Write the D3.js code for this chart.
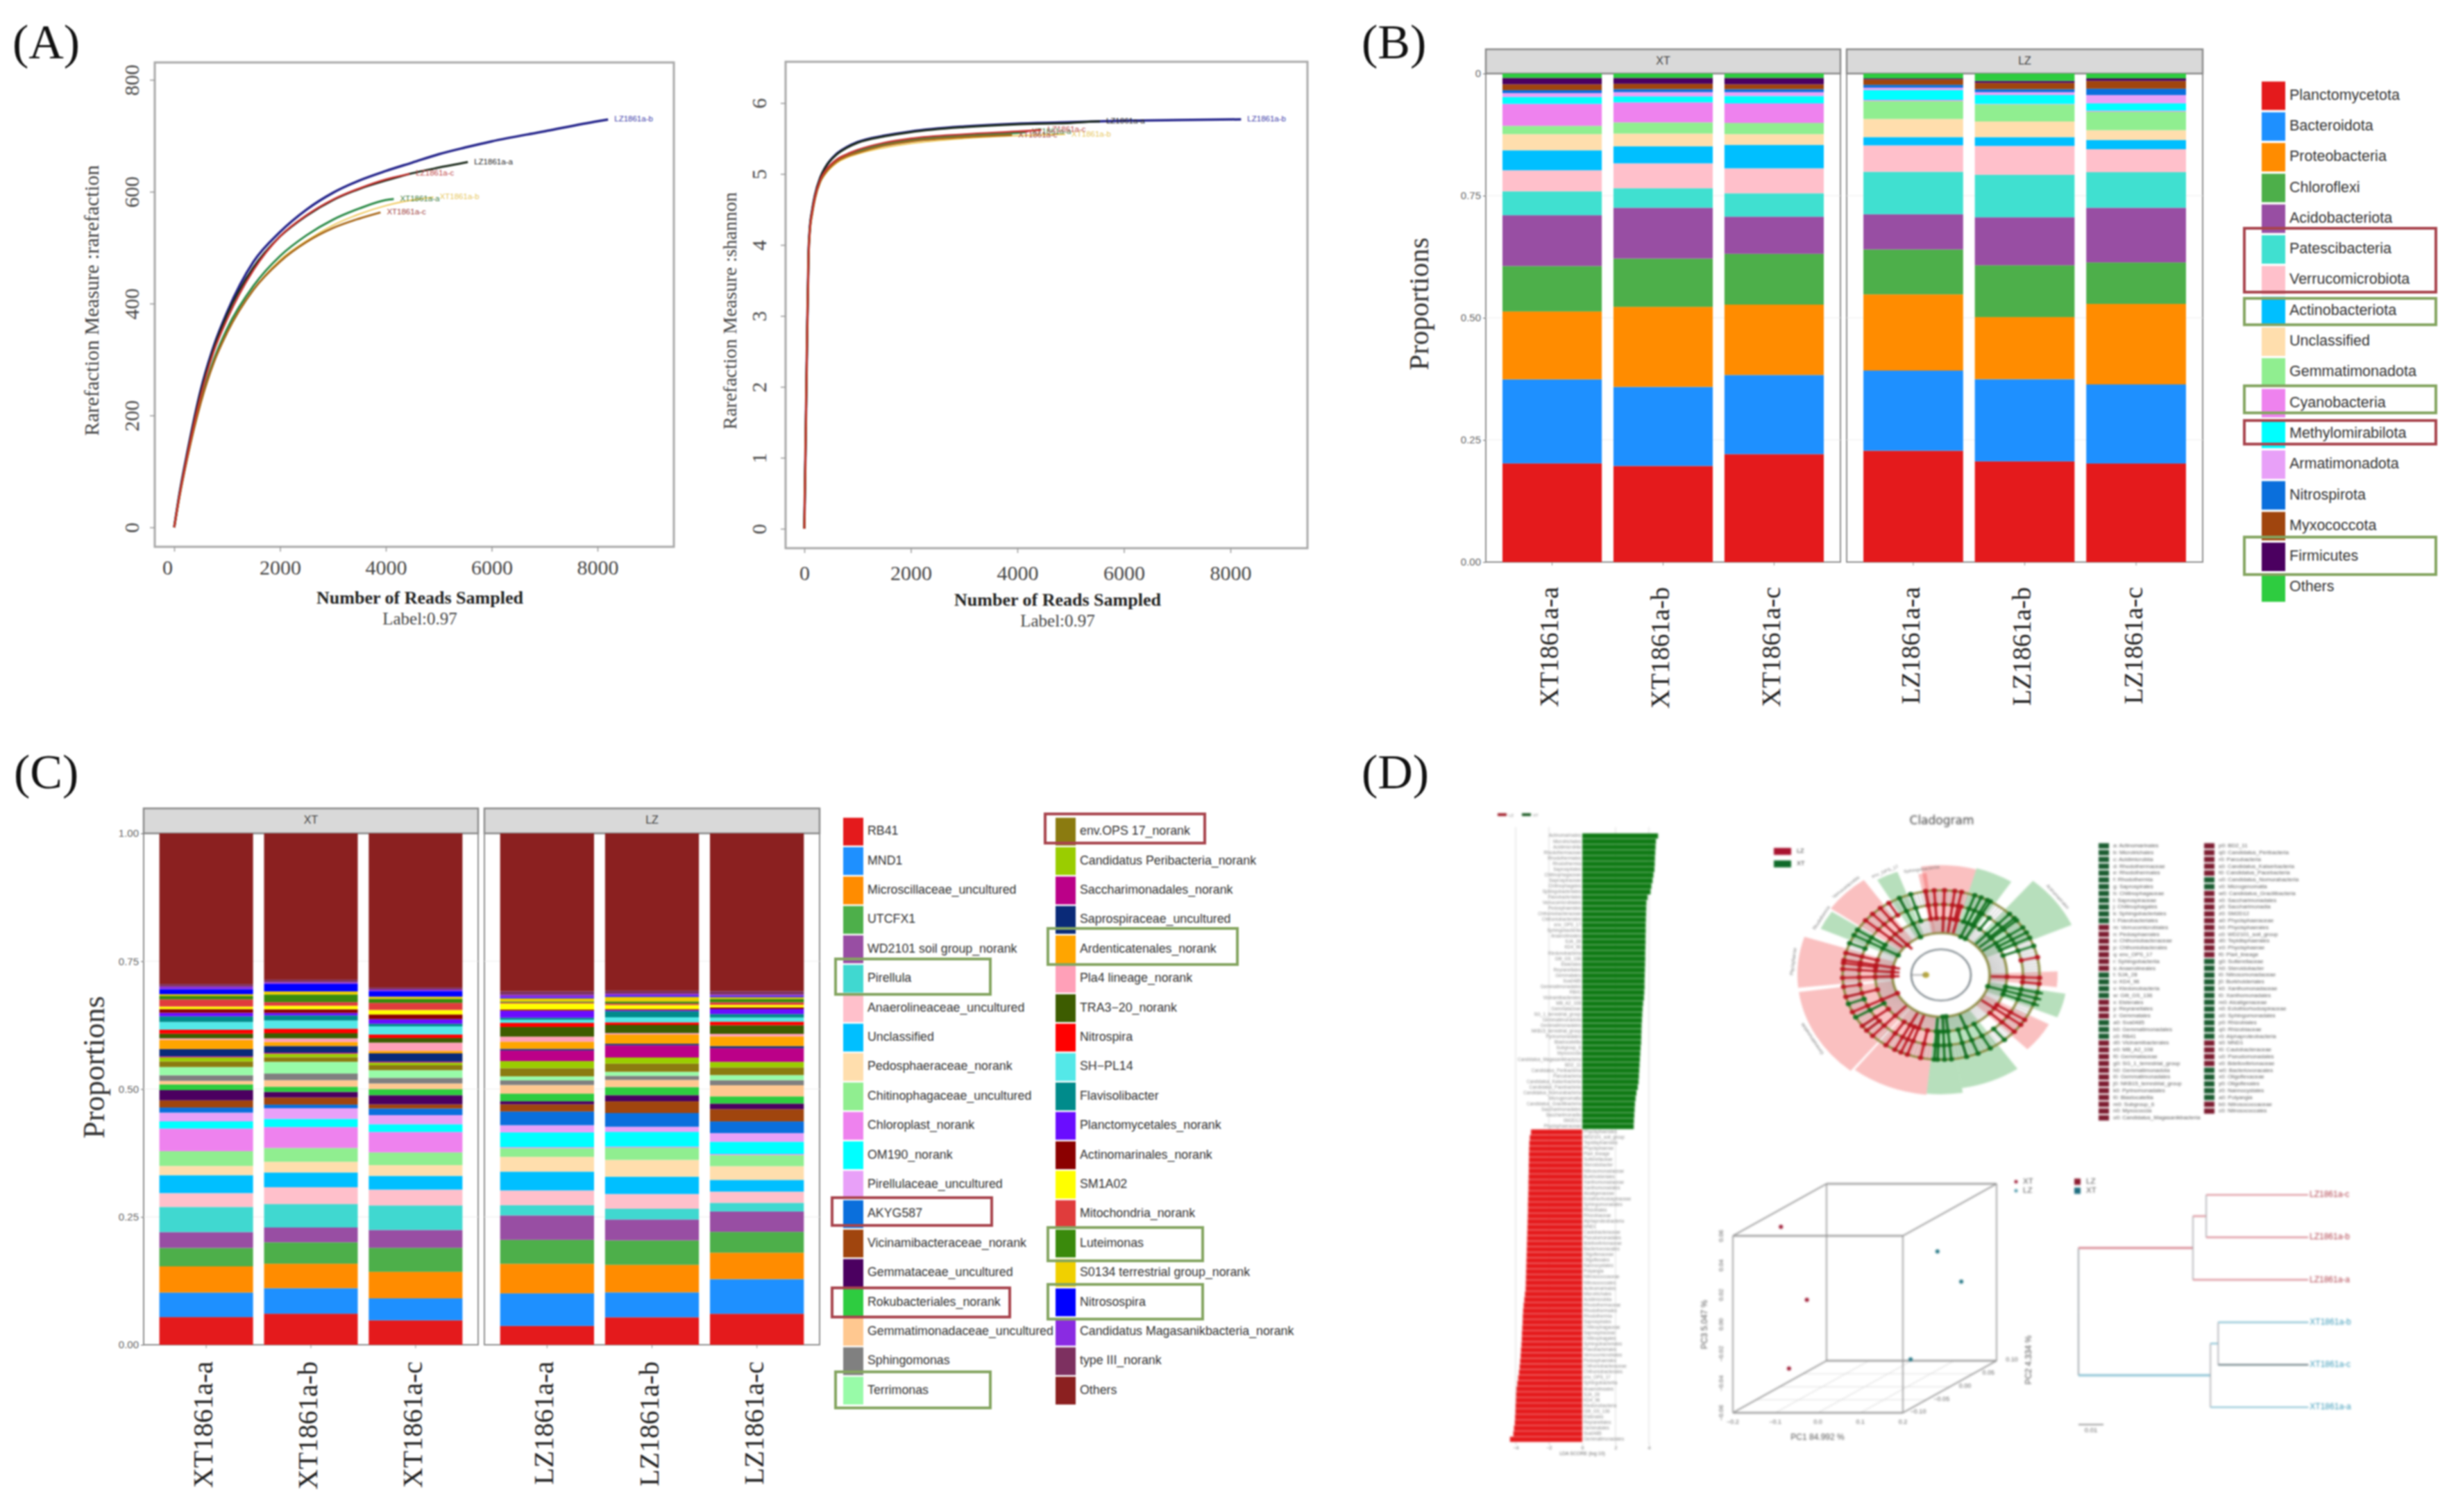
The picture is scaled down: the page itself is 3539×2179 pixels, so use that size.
<!DOCTYPE html>
<html>
<head>
<meta charset="utf-8">
<script src="https://cdn.jsdelivr.net/npm/d3@7"></script>
<style>
  body { margin: 0; background: #fff; }
  svg { display: block; filter: blur(0.8px); }
  .soft { filter: blur(1.1px); }
</style>
</head>
<body>
<div id="chart-area"></div>
<script>
// ---- panel A: rarefaction curves
const rareReads = [0, 100, 250, 500, 750, 1000, 1500, 2000, 2500, 3000, 3500, 4000, 4500, 5000, 5500, 6000, 7000, 8000, 8200];
const rareLZb = [0, 60, 135, 245, 325, 385, 475, 528, 568, 598, 620, 637, 652, 667, 679, 690, 708, 726, 729];
const rareLZa = [0, 59, 133, 240, 320, 380, 465, 520, 557, 585, 605, 620, 633, 643, 652];
const rareLZc = [0, 57, 130, 235, 315, 372, 460, 520, 558, 586, 606, 622];
const rareXTa = [0, 56, 127, 225, 300, 355, 432, 485, 522, 550, 570, 585];
const rareXTb = [0, 55, 125, 222, 296, 350, 425, 478, 512, 540, 560, 575, 585];
const rareXTc = [0, 55, 125, 222, 295, 348, 425, 475, 510, 535, 552];
const rareEnds = { "LZ1861a-b": null, "LZ1861a-a": [5550, 653], "LZ1861a-c": [4450, 632], "XT1861a-a": [4150, 587], "XT1861a-b": [4900, 590], "XT1861a-c": [3900, 563] };

const shanReads = [0, 20, 50, 80, 100, 150, 200, 300, 400, 600, 800, 1000, 1500, 2000, 3000, 4000, 5000, 5500, 6000, 7000, 8200];
const shanLZb = [0, 1.0, 2.6, 3.9, 4.2, 4.5, 4.7, 4.95, 5.1, 5.28, 5.38, 5.45, 5.54, 5.6, 5.67, 5.71, 5.73, 5.74, 5.75, 5.76, 5.77];
const shanLZa = [0, 1.0, 2.6, 3.9, 4.2, 4.5, 4.7, 4.95, 5.1, 5.27, 5.37, 5.44, 5.53, 5.59, 5.66, 5.7, 5.72, 5.74];
const shanLZc = [0, 1.0, 2.6, 3.9, 4.18, 4.48, 4.68, 4.92, 5.05, 5.2, 5.28, 5.34, 5.44, 5.5, 5.56, 5.6];
const shanXTa = [0, 1.0, 2.6, 3.9, 4.18, 4.47, 4.67, 4.9, 5.03, 5.18, 5.26, 5.32, 5.42, 5.48, 5.54, 5.58];
const shanXTb = [0, 1.0, 2.6, 3.85, 4.15, 4.45, 4.65, 4.88, 5.0, 5.15, 5.23, 5.28, 5.37, 5.43, 5.5, 5.54];
const shanXTc = [0, 1.0, 2.6, 3.85, 4.15, 4.45, 4.65, 4.9, 5.02, 5.17, 5.25, 5.3, 5.4, 5.46, 5.52];
const shanEnds = { "LZ1861a-b": null, "LZ1861a-a": [5550, 5.74], "LZ1861a-c": [4450, 5.62], "XT1861a-a": [4150, 5.59], "XT1861a-b": [4900, 5.56], "XT1861a-c": [3900, 5.55] };

// ---- panel B: phylum proportions
const samples = ["a", "b", "c"];
const phylumNames = ["Planctomycetota", "Bacteroidota", "Proteobacteria", "Chloroflexi", "Acidobacteriota", "Patescibacteria", "Verrucomicrobiota", "Actinobacteriota", "Unclassified", "Gemmatimonadota", "Cyanobacteria", "Methylomirabilota", "Armatimonadota", "Nitrospirota", "Myxococcota", "Firmicutes", "Others"];
const phylumColors = ["#e41a1c", "#1e90ff", "#ff8c00", "#4daf4a", "#984ea3", "#40e0d0", "#ffc0cb", "#00bfff", "#ffdead", "#90ee90", "#ee82ee", "#00ffff", "#e8a0f8", "#0a6fdc", "#a0450e", "#4b0060", "#2ecc40"];
const phylumXTa = [20.2, 17.2, 13.9, 9.3, 10.4, 4.9, 4.3, 4.1, 3.3, 1.7, 4.5, 1.4, 0.8, 0.6, 1.2, 1.3, 0.9];
const phylumXTb = [19.7, 16.2, 16.4, 9.9, 10.4, 4.0, 5.1, 3.5, 2.6, 2.3, 4.1, 1.2, 0.9, 0.6, 1.1, 1.2, 0.9];
const phylumXTc = [22.1, 16.2, 14.4, 10.4, 7.6, 4.8, 5.1, 4.8, 2.2, 2.3, 4.0, 1.5, 0.8, 0.6, 1.0, 1.3, 0.9];
const phylumLZa = [22.8, 16.4, 15.6, 9.2, 7.2, 8.7, 5.4, 1.7, 3.7, 3.7, 0.2, 2.0, 0.5, 0.6, 1.1, 0.2, 1.0];
const phylumLZb = [20.6, 16.8, 12.7, 10.6, 9.8, 8.7, 5.9, 1.8, 3.2, 3.5, 0.1, 1.8, 0.6, 0.6, 1.3, 0.4, 1.5];
const phylumLZc = [20.2, 16.2, 16.5, 8.5, 11.2, 7.3, 4.7, 1.9, 2.0, 3.8, 0.2, 1.5, 1.7, 1.3, 1.6, 0.5, 1.0];

// ---- panel C: genus proportions
const genusNames = ["RB41", "MND1", "Microscillaceae_uncultured", "UTCFX1", "WD2101 soil group_norank", "Pirellula", "Anaerolineaceae_uncultured", "Unclassified", "Pedosphaeraceae_norank", "Chitinophagaceae_uncultured", "Chloroplast_norank", "OM190_norank", "Pirellulaceae_uncultured", "AKYG587", "Vicinamibacteraceae_norank", "Gemmataceae_uncultured", "Rokubacteriales_norank", "Gemmatimonadaceae_uncultured", "Sphingomonas", "Terrimonas",
  "env.OPS 17_norank", "Candidatus Peribacteria_norank", "Saccharimonadales_norank", "Saprospiraceae_uncultured", "Ardenticatenales_norank", "Pla4 lineage_norank", "TRA3\u221220_norank", "Nitrospira", "SH\u2212PL14", "Flavisolibacter", "Planctomycetales_norank", "Actinomarinales_norank", "SM1A02", "Mitochondria_norank", "Luteimonas", "S0134 terrestrial group_norank", "Nitrosospira", "Candidatus Magasanikbacteria_norank", "type III_norank", "Others"];
const genusColors = ["#e41a1c", "#1e90ff", "#ff8c00", "#4daf4a", "#984ea3", "#40d8d0", "#ffc0cb", "#00bfff", "#ffdead", "#90ee90", "#ee82ee", "#00ffff", "#e8a0f8", "#0a6fdc", "#a0450e", "#4b0060", "#2ecc40", "#ffc890", "#808080", "#98fba8",
  "#8b7b10", "#9acd00", "#bb0088", "#0a2a78", "#ffa500", "#ffa0b8", "#3d5c00", "#ff0000", "#54e8e8", "#008b8b", "#6a0dff", "#8b0000", "#ffff00", "#e03c3c", "#3a8a0c", "#f0d000", "#0000ff", "#8a2be2", "#7d3060", "#8b2020"];
const genusXTa = [5.4, 4.8, 5.1, 3.6, 3.1, 4.9, 2.7, 3.5, 1.8, 2.9, 4.4, 1.4, 1.7, 1.0, 1.4, 2.0, 1.1, 0.7, 1.1, 1.6, 1.1, 0.8, 0.2, 1.4, 1.8, 0.3, 0.9, 0.8, 1.5, 1.1, 0.7, 0.7, 0.5, 1.4, 0.7, 0.3, 1.0, 0.5, 0.5, 29.4];
const genusXTb = [6.1, 5.0, 4.8, 4.2, 2.9, 4.6, 3.3, 2.9, 2.1, 2.7, 4.1, 1.6, 2.1, 0.7, 1.4, 1.1, 1.0, 1.3, 1.3, 2.3, 0.9, 0.7, 0.2, 1.3, 0.8, 0.7, 1.0, 0.9, 1.6, 1.0, 0.5, 0.7, 0.7, 0.7, 1.5, 0.6, 1.5, 0.3, 0.5, 28.7];
const genusXTc = [4.8, 4.3, 5.2, 4.7, 3.5, 4.8, 3.1, 2.7, 2.1, 2.5, 4.0, 1.5, 1.8, 1.3, 0.8, 1.8, 1.2, 1.1, 1.1, 1.5, 1.0, 0.5, 0.2, 1.6, 0.5, 1.6, 0.9, 0.7, 1.6, 0.5, 0.9, 0.9, 0.9, 1.4, 0.8, 0.4, 1.1, 0.3, 0.4, 30.2];
const genusLZa = [3.7, 6.4, 5.8, 4.7, 4.8, 2.0, 2.9, 3.7, 2.9, 1.7, 0.2, 2.9, 1.4, 2.7, 1.4, 0.6, 1.5, 1.7, 0.9, 0.8, 1.6, 1.4, 2.1, 0.3, 1.4, 1.0, 1.9, 0.8, 0.6, 0.4, 1.4, 0.2, 1.2, 0.2, 0.2, 0.6, 0.2, 0.5, 0.7, 31.0];
const genusLZb = [5.4, 4.9, 5.4, 4.8, 4.1, 2.1, 2.9, 3.4, 3.3, 2.4, 0.2, 2.9, 1.0, 2.7, 2.3, 1.2, 1.6, 1.4, 0.8, 0.8, 1.6, 1.2, 2.4, 0.3, 1.8, 0.3, 1.6, 0.5, 1.0, 1.2, 0.2, 0.2, 0.8, 0.3, 0.4, 0.9, 0.2, 0.4, 0.6, 30.9];
const genusLZc = [6.1, 6.8, 5.2, 4.1, 4.0, 1.7, 2.2, 2.3, 2.7, 2.2, 0.2, 2.4, 1.7, 2.3, 2.4, 1.1, 1.4, 2.2, 1.0, 1.0, 1.5, 1.1, 2.7, 0.4, 1.9, 0.5, 1.7, 0.7, 0.8, 0.7, 1.0, 0.3, 0.5, 0.5, 0.7, 0.3, 0.2, 0.3, 0.7, 31.0];

// ---- panel D: LDA scores, cladogram names, PCoA, tree
const ldaXT = [4.55, 4.42, 4.40, 4.38, 4.36, 4.35, 4.33, 4.27, 4.22, 4.15, 4.10, 3.92, 3.85, 3.84, 3.83, 3.82, 3.81, 3.81, 3.80, 3.80, 3.79, 3.78, 3.78, 3.77, 3.76, 3.75, 3.74, 3.74, 3.72, 3.70, 3.65, 3.62, 3.60, 3.58, 3.56, 3.55, 3.54, 3.53, 3.50, 3.48, 3.46, 3.44, 3.42, 3.40, 3.38, 3.33, 3.25, 3.20, 3.16, 3.14, 3.12, 3.10, 3.09];
const ldaLZ = [3.08, 3.15, 3.18, 3.19, 3.20, 3.20, 3.21, 3.21, 3.22, 3.23, 3.23, 3.24, 3.25, 3.26, 3.26, 3.27, 3.28, 3.29, 3.30, 3.31, 3.32, 3.33, 3.34, 3.35, 3.36, 3.37, 3.38, 3.39, 3.40, 3.44, 3.48, 3.52, 3.55, 3.57, 3.58, 3.60, 3.62, 3.63, 3.65, 3.68, 3.70, 3.73, 3.76, 3.80, 3.85, 3.90, 3.95, 3.97, 3.98, 4.00, 4.01, 4.03, 4.05, 4.10, 4.14, 4.34];
const cladeNames1 = ["Actinomarinales", "Microtrichales", "Acidimicrobiia", "Rhodothermaceae", "Rhodothermales", "Rhodothermia", "Saprospirales", "Chitinophagaceae", "Saprospiraceae", "Chitinophagales", "Sphingobacteriales", "Flavobacteriales", "Verrucomicrobiales", "Pedosphaerales", "Chthoniobacteraceae", "Chthoniobacterales", "env_OPS_17", "Sphingobacteriia", "Anaerolineales", "SJA_28", "KD4_96", "Ktedonobacteria", "Gitt_GS_136", "Elsterales", "Reyranellales", "Gemmatales", "Sva0485", "Gemmatimonadales", "RB41", "Vicinamibacterales", "MB_A2_108", "Gemmataceae", "SG_1_terrestrial_group", "Gemmatimonadota", "Gemmatimonadales", "NKB15_terrestrial_group", "Pyrinomonadales", "Blastocatellia", "Subgroup_6", "Myxococcia", "Candidatus_Magasanikbacteria"];
const cladeNames2 = ["BD2_11", "Candidatus_Peribacteria", "Parcubacteria", "Candidatus_Kaiserbacteria", "Candidatus_Pacebacteria", "Candidatus_Nomurabacteria", "Microgenomatia", "Candidatus_Gracilibacteria", "Saccharimonadales", "Saccharimonadia", "SM2D12", "Phycisphaeraceae", "Phycisphaerales", "WD2101_soil_group", "Tepidisphaerales", "Phycisphaerae", "Pla4_lineage", "Sutterellaceae", "Steroidobacter", "Nitrosomonadaceae", "Burkholderiales", "Xanthomonadaceae", "Xanthomonadales", "Alcaligenaceae", "Ectothiorhodospiraceae", "Sphingomonadales", "Rhizobiales", "Rhizobiaceae", "Alphaproteobacteria", "MND1", "Caulobacteraceae", "Pseudomonadales", "Bdellovibrionaceae", "Bacteriovoracales", "Oligoflexaceae", "Oligoflexales", "Nannocystales", "Polyangia", "Nitrosococcaceae", "Nitrosococcales"];
const cladeGroups1 = "TTTTTTTTTTTTZZZZZZZTTTTZZZTTTZZZZZZZZZZZZ";
const cladeGroups2 = "ZZZZZTTZZZZZZZZZZTTTTTTTTTTTTZZZZTTTTTZZ";
// outer shaded clades: start deg, end deg, outer radius, group
const cladeSectors = [[-9, 16, 184, "Z"], [16, 33, 186, "T"], [40, 66, 206, "T"], [88, 97, 168, "Z"], [100, 113, 182, "T"], [118, 135, 176, "Z"], [145, 171, 192, "T"], [171, 186, 200, "T"], [186, 218, 202, "Z"], [219, 262, 207, "Z"], [264, 288, 207, "Z"], [294, 304, 190, "T"], [305, 325, 194, "Z"], [330, 340, 184, "T"], [349, 353, 172, "Z"]];
// coloured branches: angle deg, inner radius, outer radius, group
const cladeRays = [[-4, 95, 145, "Z"], [2, 72, 145, "Z"], [8, 72, 145, "Z"], [12, 95, 145, "Z"], [14, 72, 118, "Z"], [20, 95, 145, "T"], [24, 70, 145, "T"], [28, 95, 145, "T"], [30, 70, 145, "T"], [36, 95, 118, "T"], [44, 72, 145, "T"], [48, 95, 145, "T"], [50, 72, 145, "T"], [56, 72, 145, "T"], [60, 95, 145, "T"], [64, 95, 145, "T"], [70, 95, 145, "T"], [78, 118, 145, "Z"], [92, 72, 145, "Z"], [96, 118, 145, "Z"], [102, 95, 150, "T"], [106, 70, 150, "T"], [110, 95, 150, "T"], [122, 95, 145, "Z"], [126, 72, 145, "Z"], [132, 95, 145, "Z"], [140, 118, 145, "T"], [150, 95, 145, "T"], [158, 72, 145, "T"], [165, 95, 145, "T"], [174, 70, 145, "T"], [178, 70, 145, "T"], [182, 95, 145, "T"], [184, 72, 145, "T"], [192, 95, 145, "Z"], [200, 72, 145, "Z"], [204, 95, 145, "Z"], [208, 72, 145, "Z"], [214, 95, 145, "Z"], [224, 72, 145, "Z"], [229, 118, 145, "Z"], [233, 95, 145, "Z"], [240, 95, 145, "T"], [244, 70, 145, "Z"], [250, 118, 145, "T"], [255, 95, 145, "Z"], [262, 118, 145, "Z"], [268, 60, 145, "Z"], [274, 60, 145, "Z"], [278, 95, 145, "Z"], [280, 60, 145, "Z"], [285, 95, 145, "Z"], [292, 118, 145, "T"], [298, 70, 145, "T"], [302, 95, 145, "T"], [310, 72, 145, "Z"], [316, 60, 145, "Z"], [322, 95, 145, "Z"], [328, 118, 145, "Z"], [335, 70, 145, "T"], [342, 95, 145, "T"], [351, 95, 145, "Z"]];
const cladeOuterLabels = [[52, 208, "Actinomarinales"], [317, 196, "Verrucomicrobia"], [299, 192, "Rhodothermia"], [335, 186, "env_OPS_17"], [276, 209, "Phycisphaerae"], [240, 209, "Gemmatimonadota"], [351, 174, "Sphingobacteriia"]];
const ringRadii = [43, 70, 95, 118, 142];
// PCoA: PC1, PC2, PC3, group
const pcoaPoints = [[-0.109, -0.08, 0.0626, "LZ"], [-0.092, -0.04, 0.006, "LZ"], [-0.112, -0.06, -0.037, "LZ"], [0.127, 0.04, 0.0247, "XT"], [0.161, 0.06, 0.0007, "XT"], [0.108, 0, -0.0414, "XT"]];
const pc1Ticks = [-0.2, -0.1, 0, 0.1, 0.2];
const pc2Ticks = [-0.1, -0.05, 0, 0.05, 0.1];
const pc3Ticks = [-0.06, -0.04, -0.02, 0, 0.02, 0.04, 0.06];
const treeData = { children: [
  { len: 0.0458, children: [
    { len: 0.0053, children: [{ name: "LZ1861a-c", len: 0.0408 }, { name: "LZ1861a-b", len: 0.0408 }] },
    { name: "LZ1861a-a", len: 0.0461 }] },
  { len: 0.0528, children: [
    { len: 0.0031, children: [{ name: "XT1861a-b", len: 0.0361 }, { name: "XT1861a-c", len: 0.0361 }] },
    { name: "XT1861a-a", len: 0.0392 }] }
] };

const serif = "'Liberation Serif'", sans = "'Liberation Sans'";
const greenD = "#0f7a14", redD = "#e51a1c";

const svg = d3.select("#chart-area").append("svg").attr("width", 3539).attr("height", 2179);
svg.append("rect").attr("width", 3539).attr("height", 2179).attr("fill", "#fff");

// panel letters
[["(A)", 18, 84], ["(B)", 1962, 84], ["(C)", 20, 1136], ["(D)", 1962, 1136]].forEach(d => {
  svg.append("text").attr("x", d[1]).attr("y", d[2]).attr("font-family", serif).attr("font-size", 70).attr("fill", "#111").text(d[0]);
});

// ---- A
function drawRarefaction(o) {
  const g = svg.append("g");
  const x = d3.scaleLinear().domain([0, 8000]).range(o.xRange);
  const y = d3.scaleLinear().domain(o.yDomain).range(o.yRange);
  g.append("rect").attr("x", o.box[0]).attr("y", o.box[1]).attr("width", o.box[2] - o.box[0]).attr("height", o.box[3] - o.box[1])
    .attr("fill", "#fff").attr("stroke", "#a8a8a8").attr("stroke-width", 3);

  const xAxis = g.append("g").attr("transform", "translate(0," + o.box[3] + ")")
    .call(d3.axisBottom(x).tickValues([0, 2000, 4000, 6000, 8000]).tickSize(7).tickPadding(o.xPad).tickFormat(d3.format("d")));
  const yAxis = g.append("g").attr("transform", "translate(" + o.box[0] + ",0)")
    .call(d3.axisLeft(y).tickValues(o.yTicks).tickSize(7).tickFormat(d3.format("d")));
  [xAxis, yAxis].forEach(a => {
    a.select(".domain").remove();
    a.selectAll("line").attr("stroke", "#999").attr("stroke-width", 1.5);
    a.selectAll("text").attr("font-family", serif).attr("font-size", 30).attr("fill", "#444");
  });
  xAxis.selectAll("text").filter(d => d === 0).attr("dx", o.zeroShift);
  yAxis.selectAll("text").attr("text-anchor", "middle").attr("x", 0).attr("dy", 0)
    .attr("transform", "translate(" + (o.yLabelX - o.box[0]) + ",0) rotate(-90)")
    .attr("dominant-baseline", "middle");

  const line = d3.line().x(d => x(d[0])).y(d => y(d[1])).curve(d3.curveMonotoneX);
  o.series.forEach(s => {
    const pts = s.values.map((v, i) => [o.reads[i], v]);
    const end = o.ends[s.name];
    if (end) pts.push(end);
    g.append("path").attr("d", line(pts)).attr("fill", "none").attr("stroke", s.color).attr("stroke-width", s.w || 3);
    const last = pts[pts.length - 1];
    g.append("text").attr("x", x(last[0]) + 9).attr("y", y(last[1])).attr("dominant-baseline", "middle")
      .attr("font-family", sans).attr("font-size", 11.5).attr("fill", s.label).text(s.name);
  });

  g.append("text").attr("transform", "translate(" + o.yTitle[0] + "," + o.yTitle[1] + ") rotate(-90)").attr("text-anchor", "middle")
    .attr("dominant-baseline", "middle").attr("font-family", serif).attr("font-size", o.yTitleSize).attr("fill", "#444").text(o.yTitleText);
  g.append("text").attr("x", o.xTitle[0]).attr("y", o.xTitle[1]).attr("text-anchor", "middle").attr("dominant-baseline", "middle")
    .attr("font-family", serif).attr("font-weight", "bold").attr("font-size", 26).attr("fill", "#222").text("Number of Reads Sampled");
  g.append("text").attr("x", o.xTitle[0]).attr("y", o.xTitle[1] + 30).attr("text-anchor", "middle").attr("dominant-baseline", "middle")
    .attr("font-family", serif).attr("font-size", 25).attr("fill", "#444").text("Label:0.97");
}

const curveStyle = [
  { name: "XT1861a-b", color: "#f0c858", label: "#e8c860", w: 2 },
  { name: "LZ1861a-b", color: "#26268c", label: "#3a3aa8", w: 3.5 },
  { name: "LZ1861a-a", color: "#1c2b1c", label: "#222", w: 3 },
  { name: "XT1861a-a", color: "#2a8a46", label: "#3a7a3a", w: 3 },
  { name: "XT1861a-c", color: "#a9691a", label: "#a04040", w: 3 },
  { name: "LZ1861a-c", color: "#c8322f", label: "#c04848", w: 2.6 }
];
const rareValues = { "XT1861a-b": rareXTb, "LZ1861a-b": rareLZb, "LZ1861a-a": rareLZa, "XT1861a-a": rareXTa, "XT1861a-c": rareXTc, "LZ1861a-c": rareLZc };
const shanValues = { "XT1861a-b": shanXTb, "LZ1861a-b": shanLZb, "LZ1861a-a": shanLZa, "XT1861a-a": shanXTa, "XT1861a-c": shanXTc, "LZ1861a-c": shanLZc };

drawRarefaction({
  box: [223, 90, 971, 788], xRange: [251, 861], yDomain: [0, 800], yRange: [760, 115], yTicks: [0, 200, 400, 600, 800],
  yLabelX: 193, xPad: 12, zeroShift: -10, reads: rareReads, ends: rareEnds, yTitle: [135, 433], yTitleSize: 29.5, yTitleText: "Rarefaction Measure :rarefaction", xTitle: [605, 864],
  series: curveStyle.map(s => Object.assign({ values: rareValues[s.name] }, s))
});
drawRarefaction({
  box: [1132, 89, 1884, 790], xRange: [1159, 1773], yDomain: [0, 6], yRange: [762, 148.5], yTicks: [0, 1, 2, 3, 4, 5, 6],
  yLabelX: 1097, xPad: 18, zeroShift: 0, reads: shanReads, ends: shanEnds, yTitle: [1055, 448], yTitleSize: 28, yTitleText: "Rarefaction Measure :shannon", xTitle: [1524, 867],
  series: curveStyle.map(s => Object.assign({ values: shanValues[s.name] }, s))
});

// ---- B and C: faceted stacks
function drawFacets(o) {
  const g = svg.append("g");
  const y = d3.scaleLinear().domain([0, 1]).range([o.bottom, o.top]);
  const groups = [{ name: "XT", range: o.xt, rows: o.rows.slice(0, 3) }, { name: "LZ", range: o.lz, rows: o.rows.slice(3) }];
  const keys = d3.range(o.colors.length);

  groups.forEach((p, pi) => {
    const x = d3.scaleBand().domain(samples).range(p.range).paddingInner(0.105).paddingOuter(0.15);
    g.append("rect").attr("x", p.range[0]).attr("y", o.top).attr("width", p.range[1] - p.range[0]).attr("height", o.bottom - o.top)
      .attr("fill", "#fff").attr("stroke", "#909090").attr("stroke-width", 2);
    // faint gridlines
    g.selectAll(null).data([0.25, 0.5, 0.75]).enter().append("line")
      .attr("x1", p.range[0]).attr("x2", p.range[1]).attr("y1", d => y(d)).attr("y2", d => y(d)).attr("stroke", "#eee");
    // strip
    g.append("rect").attr("x", p.range[0]).attr("y", o.stripTop).attr("width", p.range[1] - p.range[0]).attr("height", o.top - o.stripTop)
      .attr("fill", "#d9d9d9").attr("stroke", "#8a8a8a").attr("stroke-width", 2.5);
    g.append("text").attr("x", (p.range[0] + p.range[1]) / 2).attr("y", (o.top + o.stripTop) / 2).attr("text-anchor", "middle")
      .attr("dominant-baseline", "middle").attr("font-family", sans).attr("font-size", 16).attr("fill", "#444").text(p.name);

    const table = p.rows.map((vals, i) => {
      const row = { sample: samples[i] };
      vals.forEach((v, k) => { row[k] = v; });
      return row;
    });
    const stacked = d3.stack().keys(keys).offset(d3.stackOffsetExpand)(table);
    g.append("g").selectAll("g").data(stacked).enter().append("g").attr("fill", d => o.colors[d.key])
      .selectAll("rect").data(d => d).enter().append("rect")
      .attr("x", d => x(d.data.sample)).attr("width", x.bandwidth())
      .attr("y", d => y(d[1])).attr("height", d => y(d[0]) - y(d[1]));

    const xAxis = g.append("g").attr("transform", "translate(0," + o.bottom + ")")
      .call(d3.axisBottom(x).tickSize(5).tickFormat(d => p.name + "1861a-" + d));
    xAxis.select(".domain").remove();
    xAxis.selectAll("line").attr("stroke", "#888");
    xAxis.selectAll("text").attr("font-family", serif).attr("font-size", o.labelSize).attr("fill", "#222")
      .attr("text-anchor", "end").attr("dominant-baseline", "middle")
      .attr("x", 0).attr("dy", 0).attr("y", 0)
      .attr("transform", "translate(0," + o.labelGap + ") rotate(-90)");

    if (pi === 0) {
      const yAxis = g.append("g").attr("transform", "translate(" + p.range[0] + ",0)")
        .call(d3.axisLeft(y).tickValues([0, 0.25, 0.5, 0.75, 1]).tickSize(4).tickFormat(d => d === 1 ? o.topLabel : d3.format(".2f")(d)));
      yAxis.select(".domain").remove();
      yAxis.selectAll("line").attr("stroke", "#666");
      yAxis.selectAll("text").attr("font-family", sans).attr("font-size", 15).attr("fill", "#666");
    }
  });

  g.append("text").attr("transform", "translate(" + o.title[0] + "," + o.title[1] + ") rotate(-90)").attr("text-anchor", "middle")
    .attr("dominant-baseline", "middle").attr("font-family", serif).attr("font-size", o.titleSize).attr("fill", "#333").text("Proportions");
}

drawFacets({
  rows: [phylumXTa, phylumXTb, phylumXTc, phylumLZa, phylumLZb, phylumLZc], colors: phylumColors,
  xt: [2141, 2652], lz: [2661, 3174], top: 106, bottom: 810, stripTop: 71, labelGap: 36, labelSize: 38, topLabel: "0", title: [2049, 438], titleSize: 41
});
drawFacets({
  rows: [genusXTa, genusXTb, genusXTc, genusLZa, genusLZb, genusLZc], colors: genusColors,
  xt: [207, 689], lz: [698, 1181], top: 1201, bottom: 1938, stripTop: 1165, labelGap: 24, labelSize: 40, topLabel: "1.00", title: [140, 1538], titleSize: 44
});

function drawLegend(names, colors, o) {
  const g = svg.append("g");
  const row = g.selectAll("g").data(names).enter().append("g")
    .attr("transform", (d, i) => "translate(" + o.x + "," + (o.y + i * o.step) + ")");
  row.append("rect").attr("x", 0).attr("y", -o.h / 2).attr("width", o.w).attr("height", o.h).attr("fill", (d, i) => colors[i]);
  row.append("text").attr("x", o.w + o.gap).attr("dominant-baseline", "middle").attr("font-family", sans)
    .attr("font-size", o.font).attr("fill", "#333").text(d => d);
}
drawLegend(phylumNames, phylumColors, { x: 3259, y: 138, step: 44.3, w: 34, h: 41, gap: 6, font: 21.5 });
drawLegend(genusNames.slice(0, 20), genusColors.slice(0, 20), { x: 1215, y: 1198.5, step: 42.4, w: 29, h: 40, gap: 6, font: 17.8 });
drawLegend(genusNames.slice(20), genusColors.slice(20), { x: 1521, y: 1198.5, step: 42.4, w: 29, h: 40, gap: 6, font: 17.8 });

// highlight frames round legend entries
const frameRed = "#a8434c", frameGreen = "#84a560";
[[3234, 329, 3510, 421, frameRed], [3234, 430, 3510, 468, frameGreen], [3234, 556, 3510, 595, frameGreen], [3234, 606, 3510, 640, frameRed], [3234, 774, 3510, 828, frameGreen],
 [1204, 1382, 1427, 1433, frameGreen], [1199, 1726, 1429, 1766, frameRed], [1199, 1856, 1455, 1898, frameRed], [1204, 1977, 1427, 2029, frameGreen],
 [1506, 1173, 1736, 1215, frameRed], [1510, 1338, 1783, 1390, frameGreen], [1510, 1769, 1733, 1817, frameGreen], [1510, 1851, 1733, 1901, frameGreen]].forEach(b => {
  svg.append("rect").attr("x", b[0]).attr("y", b[1]).attr("width", b[2] - b[0]).attr("height", b[3] - b[1])
    .attr("fill", "none").attr("stroke", b[4]).attr("stroke-width", 4);
});

// ---- D: LDA bars
const allCladeNames = cladeNames1.concat(cladeNames2);
(function () {
  const g = svg.append("g").attr("class", "soft");
  const x = d3.scaleLinear().domain([-4, 4]).range([2184, 2376]);
  const bars = ldaXT.map(v => ({ v: v, g: "T" })).concat(ldaLZ.map(v => ({ v: -v, g: "Z" })));
  const y = d3.scaleBand().domain(d3.range(bars.length)).range([1201, 2078]).paddingInner(0.07);

  g.selectAll(null).data([-4, -2, 2, 4]).enter().append("line").attr("x1", d => x(d)).attr("x2", d => x(d))
    .attr("y1", 1192).attr("y2", 2080).attr("stroke", "#e6e6e6").attr("stroke-width", 1.5);

  g.selectAll(null).data(bars).enter().append("rect")
    .attr("x", d => Math.min(x(0), x(d.v))).attr("width", d => Math.abs(x(d.v) - x(0)))
    .attr("y", (d, i) => y(i)).attr("height", y.bandwidth())
    .attr("fill", d => d.g === "T" ? greenD : redD);

  g.selectAll(null).data(bars).enter().append("text")
    .attr("x", d => d.v > 0 ? x(0) - 2 : x(0) + 2).attr("y", (d, i) => y(i) + y.bandwidth() / 2)
    .attr("text-anchor", d => d.v > 0 ? "end" : "start").attr("dominant-baseline", "middle")
    .attr("font-family", sans).attr("font-size", 6.5).attr("fill", "#888")
    .text((d, i) => allCladeNames[i % allCladeNames.length]);

  const axis = g.append("g").attr("transform", "translate(0,2080)")
    .call(d3.axisBottom(x).tickValues([-4, -2, 0, 2, 4]).tickSize(2).tickPadding(2));
  axis.select(".domain").remove();
  axis.selectAll("line").attr("stroke", "#bbb");
  axis.selectAll("text").attr("font-family", sans).attr("font-size", 7).attr("fill", "#666");
  g.append("text").attr("x", x(0)).attr("y", 2097).attr("text-anchor", "middle").attr("font-family", sans).attr("font-size", 7).attr("fill", "#666").text("LDA SCORE (log 10)");

  [[2158, "LZ", "#a01c28"], [2193, "XT", "#1a5a22"]].forEach(d => {
    g.append("rect").attr("x", d[0]).attr("y", 1172).attr("width", 13).attr("height", 4).attr("fill", d[2]);
    g.append("text").attr("x", d[0] + 16).attr("y", 1177).attr("font-family", sans).attr("font-size", 6).attr("fill", "#888").text(d[1]);
  });
})();

// ---- D: cladogram
(function () {
  const root = svg.append("g").attr("class", "soft");
  root.append("text").attr("x", 2798).attr("y", 1183).attr("text-anchor", "middle").attr("dominant-baseline", "middle")
    .attr("font-family", "'DejaVu Sans'").attr("font-size", 17).attr("fill", "#444").text("Cladogram");
  [["LZ", 1227, "#a8122e"], ["XT", 1245, "#0f6a2a"]].forEach(d => {
    root.append("rect").attr("x", 2556).attr("y", d[1] - 5).attr("width", 25).attr("height", 10).attr("fill", d[2]);
    root.append("text").attr("x", 2589).attr("y", d[1]).attr("dominant-baseline", "middle").attr("font-family", sans).attr("font-size", 9).attr("fill", "#444").text(d[0]);
  });

  const g = root.append("g").attr("transform", "translate(2797,1405) scale(1,0.86)");
  const rad = Math.PI / 180;
  const arc = d3.arc();
  const fillOf = k => k === "T" ? "#1e9a2e" : "#f03c3c";
  const polar = (deg, r) => [r * Math.sin(deg * rad), -r * Math.cos(deg * rad)];

  g.selectAll(null).data(cladeSectors).enter().append("path")
    .attr("d", d => arc({ innerRadius: 146, outerRadius: d[2], startAngle: d[0] * rad, endAngle: d[1] * rad }))
    .attr("fill", d => fillOf(d[3])).attr("opacity", 0.32);
  g.selectAll(null).data(cladeSectors).enter().append("path")
    .attr("d", d => arc({ innerRadius: 70, outerRadius: 146, startAngle: d[0] * rad, endAngle: d[1] * rad }))
    .attr("fill", d => fillOf(d[3])).attr("opacity", 0.3);

  g.selectAll(null).data(cladeOuterLabels).enter().append("text")
    .attr("transform", d => "rotate(" + d[0] + ") translate(0," + (-d[1] - 3) + ")")
    .attr("text-anchor", "middle").attr("font-family", sans).attr("font-size", 7).attr("fill", "#777").text(d => d[2]);

  // fine tips between the outer rings
  [[70, 95], [118, 142]].forEach(b => {
    g.selectAll(null).data(d3.range(0, 360, 2)).enter().append("line")
      .attr("x1", d => polar(d, b[0])[0]).attr("y1", d => polar(d, b[0])[1])
      .attr("x2", d => polar(d, b[1])[0]).attr("y2", d => polar(d, b[1])[1])
      .attr("stroke", "#8a8a8a").attr("stroke-width", 0.9);
  });

  g.selectAll(null).data(ringRadii).enter().append("circle").attr("r", d => d).attr("fill", "none")
    .attr("stroke", (d, i) => i === 0 ? "#3c4a52" : "#7d7d28").attr("stroke-width", (d, i) => i === 0 ? 2 : 3.5).attr("opacity", 0.85);

  const rayColor = k => k === "T" ? "#0e6e1c" : "#b8141e";
  g.selectAll(null).data(cladeRays).enter().append("line")
    .attr("x1", d => polar(d[0], d[1])[0]).attr("y1", d => polar(d[0], d[1])[1])
    .attr("x2", d => polar(d[0], d[2])[0]).attr("y2", d => polar(d[0], d[2])[1])
    .attr("stroke", d => rayColor(d[3])).attr("stroke-width", 3.5);
  cladeRays.forEach(d => {
    ringRadii.filter(r => r >= d[1] && r <= d[2]).forEach(r => {
      const p = polar(d[0], r);
      g.append("circle").attr("cx", p[0]).attr("cy", p[1]).attr("r", 3.8).attr("fill", rayColor(d[3]));
    });
  });
  const hub = polar(270, 22);
  g.append("circle").attr("cx", hub[0]).attr("cy", hub[1]).attr("r", 5).attr("fill", "#b9a83a");
  g.append("line").attr("x1", hub[0]).attr("y1", hub[1]).attr("x2", -43).attr("y2", hub[1]).attr("stroke", "#888").attr("stroke-width", 1.5);

  // key of clade names
  function cladeKey(names, groups, x0, prefix) {
    const row = root.append("g").selectAll("g").data(names).enter().append("g")
      .attr("transform", (d, i) => "translate(" + x0 + "," + (1219 + i * 9.8) + ")");
    row.append("rect").attr("y", -3.8).attr("width", 15).attr("height", 7.6).attr("fill", (d, i) => groups[i] === "T" ? "#1a5c30" : "#7c1c30");
    row.append("text").attr("x", 21).attr("dominant-baseline", "middle").attr("font-family", sans).attr("font-size", 8).attr("fill", "#555")
      .text((d, i) => prefix(i) + ": " + d);
  }
  const letter = i => i < 26 ? String.fromCharCode(97 + i) : String.fromCharCode(97 + (i - 26) % 26) + "0";
  cladeKey(cladeNames1, cladeGroups1, 3024, letter);
  cladeKey(cladeNames2, cladeGroups2, 3176, i => letter(i + 41));
})();

// ---- D: PCoA box
(function () {
  const g = svg.append("g").attr("class", "soft");
  const x = d3.scaleLinear().domain([-0.2, 0.2]).range([2497, 2742]);
  const z = d3.scaleLinear().domain([-0.06, 0.06]).range([2036, 1781]);
  const depth = d3.scaleLinear().domain([-0.1, 0.1]).range([0, 1]);
  const project = (a, b, c) => [x(a) + depth(b) * 135, z(c) - depth(b) * 75];
  const seg = (p, q, col, w) => g.append("line").attr("x1", p[0]).attr("y1", p[1]).attr("x2", q[0]).attr("y2", q[1]).attr("stroke", col).attr("stroke-width", w);

  // floor grid
  pc1Ticks.slice(1, -1).forEach(t => seg(project(t, -0.1, -0.06), project(t, 0.1, -0.06), "#ddd", 1.2));
  pc2Ticks.slice(1, -1).forEach(t => seg(project(-0.2, t, -0.06), project(0.2, t, -0.06), "#ddd", 1.2));

  const A = [-0.2, 0.2], B = [-0.1, 0.1], C = [-0.06, 0.06];
  A.forEach(a => B.forEach(b => seg(project(a, b, C[0]), project(a, b, C[1]), "#888", 1.5)));
  A.forEach(a => C.forEach(c => seg(project(a, B[0], c), project(a, B[1], c), "#888", 1.5)));
  B.forEach(b => C.forEach(c => seg(project(A[0], b, c), project(A[1], b, c), "#999", 2.4)));

  const txt = (px, py, s, rot) => g.append("text").attr("transform", "translate(" + px + "," + py + ")" + (rot ? " rotate(-90)" : ""))
    .attr("text-anchor", "middle").attr("dominant-baseline", "middle").attr("font-family", sans).attr("font-size", 9).attr("fill", "#666").text(s);
  pc1Ticks.forEach(t => txt(x(t), 2050, d3.format(".1f")(t)));
  pc2Ticks.forEach(t => { const p = project(0.2, t, -0.06); txt(p[0] + 22, p[1] - 1, d3.format(".2f")(t)); });
  pc3Ticks.forEach(t => txt(2481, z(t), d3.format(".2f")(t), true));

  g.selectAll(null).data(pcoaPoints).enter().append("circle")
    .attr("cx", d => project(d[0], d[1], d[2])[0]).attr("cy", d => project(d[0], d[1], d[2])[1]).attr("r", 3)
    .attr("fill", d => d[3] === "LZ" ? "#a0203a" : "#2a7a88");

  const title = (tr, s) => g.append("text").attr("transform", tr).attr("text-anchor", "middle").attr("dominant-baseline", "middle").attr("font-family", sans).attr("font-size", 12).attr("fill", "#555").text(s);
  title("translate(2619,2072)", "PC1  84.992 %");
  title("translate(2457,1909) rotate(-90)", "PC3  5.047 %");
  title("translate(2924,1960) rotate(-90)", "PC2  4.334 %");

  [["XT", 1703, "#a0203a"], ["LZ", 1716, "#5aa0b0"]].forEach(d => {
    g.append("circle").attr("cx", 2905).attr("cy", d[1]).attr("r", 2.5).attr("fill", d[2]);
    g.append("text").attr("x", 2915).attr("y", d[1]).attr("dominant-baseline", "middle").attr("font-family", sans).attr("font-size", 11.5).attr("fill", "#555").text(d[0]);
  });
  [["LZ", 1703, "#8c1c30"], ["XT", 1716, "#1f6e80"]].forEach(d => {
    g.append("rect").attr("x", 2989).attr("y", d[1] - 4.5).attr("width", 9).attr("height", 9).attr("fill", d[2]);
    g.append("text").attr("x", 3006).attr("y", d[1]).attr("dominant-baseline", "middle").attr("font-family", sans).attr("font-size", 11.5).attr("fill", "#555").text(d[0]);
  });
})();

// ---- D: sample tree
(function () {
  const g = svg.append("g").attr("class", "soft");
  const root = d3.hierarchy(treeData);
  root.eachBefore(d => { d.dist = (d.parent ? d.parent.dist : 0) + (d.data.len || 0); });
  const x = d3.scaleLinear().domain([0, 0.0919]).range([2995, 3326]);
  const leafY = d3.scalePoint().domain(root.leaves().map(d => d.data.name)).range([1722, 2028]);
  root.eachAfter(d => { d.ypos = d.children ? d3.mean(d.children, c => c.ypos) : leafY(d.data.name); });
  const colorOf = d => {
    const leaf = d.leaves()[0].data.name;
    if (d.data.name === "XT1861a-c") return "#667a80";
    return leaf.startsWith("LZ") ? "#d98a94" : "#86c0d2";
  };
  root.descendants().slice(1).forEach(d => {
    // vertical of the parent, then the branch itself
    g.append("path").attr("fill", "none").attr("stroke", d.depth === 1 ? "#8a9298" : "#a9a9ae").attr("stroke-width", 1.6)
      .attr("d", "M" + x(d.parent.dist) + "," + d.parent.ypos + "V" + d.ypos);
    g.append("path").attr("fill", "none").attr("stroke", colorOf(d)).attr("stroke-width", d.depth === 1 ? 3 : 2.2)
      .attr("d", "M" + x(d.parent.dist) + "," + d.ypos + "H" + x(d.dist));
  });
  root.leaves().forEach(d => {
    g.append("text").attr("x", x(d.dist) + 2).attr("y", d.ypos).attr("dominant-baseline", "middle").attr("font-family", sans).attr("font-size", 12)
      .attr("fill", d.data.name.startsWith("LZ") ? "#b0404c" : "#3a9ab8").text(d.data.name);
  });
  g.append("line").attr("x1", x(0)).attr("x2", x(0.01)).attr("y1", 2053).attr("y2", 2053).attr("stroke", "#777").attr("stroke-width", 1.4);
  g.append("text").attr("x", x(0.005)).attr("y", 2064).attr("text-anchor", "middle").attr("font-family", sans).attr("font-size", 9.5).attr("fill", "#666").text("0.01");
})();
</script>
</body>
</html>
